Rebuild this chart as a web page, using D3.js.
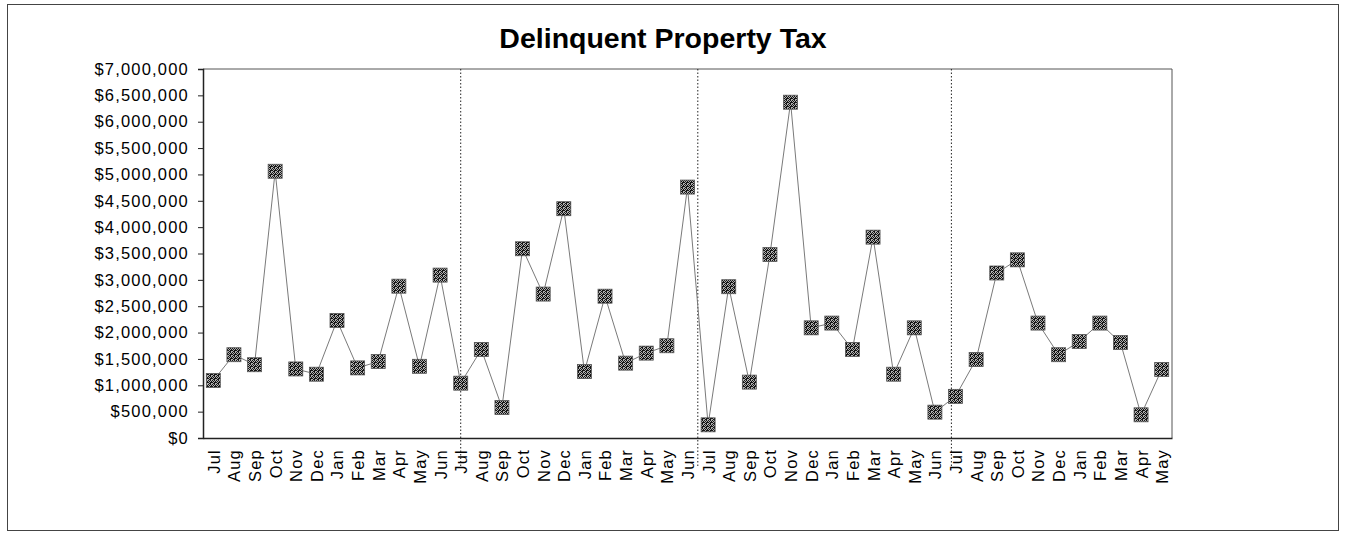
<!DOCTYPE html>
<html>
<head>
<meta charset="utf-8">
<script src="https://cdn.jsdelivr.net/npm/d3@7"></script>
<style>
  body { margin: 0; background: #fff; }
  svg { display: block; font-family: "Liberation Sans", Arial, sans-serif; }
</style>
</head>
<body>
<svg></svg>
<script>
const width = 1349;
const height = 538;

// Month labels, fiscal years Jul-Jun (last year ends in May)
const months = ["Jul", "Aug", "Sep", "Oct", "Nov", "Dec", "Jan", "Feb", "Mar", "Apr", "May", "Jun"];
const yearLengths = [12, 12, 12, 11];

// Monthly delinquent tax, in dollars
const values = [
  1090000, 1580000, 1390000, 5060000, 1310000, 1210000, 2230000, 1330000, 1450000, 2880000, 1360000, 3090000,
  1040000, 1680000, 580000, 3590000, 2730000, 4350000, 1260000, 2690000, 1420000, 1610000, 1750000, 4760000,
  250000, 2870000, 1060000, 3480000, 6370000, 2090000, 2180000, 1680000, 3810000, 1210000, 2090000, 490000,
  790000, 1490000, 3130000, 3380000, 2180000, 1580000, 1830000, 2180000, 1810000, 440000, 1300000
];

// Dotted separators between fiscal years (category position)
const dividers = [12, 23.5, 35.8];

const labels = yearLengths.flatMap((n) => months.slice(0, n));
const data = values.map((v, i) => ({ i, label: labels[i], value: v }));

const margin = { top: 69, right: 177, bottom: 100, left: 203 };

const svg = d3.select("svg").attr("width", width).attr("height", height);

// outer frame
svg.append("rect")
  .attr("x", 7.5).attr("y", 4.5)
  .attr("width", 1331).attr("height", 526)
  .attr("fill", "none")
  .attr("stroke", "#444")
  .attr("stroke-width", 1);

// halftone-like marker fill
const pat = svg.append("defs").append("pattern")
  .attr("id", "speckle")
  .attr("width", 4).attr("height", 4)
  .attr("patternUnits", "userSpaceOnUse");
pat.append("rect").attr("width", 4).attr("height", 4).attr("fill", "#b0b0b0");
[[0, 0], [2, 0], [1, 1], [3, 1], [0, 2], [3, 2], [1, 3], [2, 3], [2, 2]].forEach(([px, py]) =>
  pat.append("rect").attr("x", px).attr("y", py).attr("width", 1).attr("height", 1).attr("fill", "#151515"));

svg.append("text")
  .attr("x", 663)
  .attr("y", 48)
  .attr("text-anchor", "middle")
  .style("font-size", "28.5px")
  .style("font-weight", "bold")
  .attr("fill", "#000")
  .text("Delinquent Property Tax");

const x = d3.scaleLinear()
  .domain([-0.5, values.length - 0.5])
  .range([margin.left, width - margin.right]);

const y = d3.scaleLinear()
  .domain([0, 7000000])
  .range([438, margin.top]);

// plot border (top / right)
svg.append("path")
  .attr("d", `M${x.range()[0]},${y(7000000)}H${x.range()[1]}V${y(0)}`)
  .attr("fill", "none")
  .attr("stroke", "#555")
  .attr("stroke-width", 1);

// y axis
const yAxis = svg.append("g")
  .attr("transform", `translate(${margin.left},0)`)
  .call(d3.axisLeft(y)
    .tickValues(d3.range(0, 7000001, 500000))
    .tickFormat(d3.format("$,.0f"))
    .tickSize(5)
    .tickPadding(9));
yAxis.select(".domain").attr("stroke", "#222").attr("stroke-width", 1.5);
yAxis.selectAll(".tick line").attr("stroke", "#222");
yAxis.selectAll("text")
  .style("font-size", "16.5px")
  .style("letter-spacing", "1.2px")
  .attr("fill", "#000");

// x axis
const xAxis = svg.append("g")
  .attr("transform", `translate(0,${y(0)})`)
  .call(d3.axisBottom(x)
    .tickValues(d3.range(values.length))
    .tickFormat((i) => labels[i])
    .tickSize(0));
xAxis.select(".domain").attr("stroke", "#222").attr("stroke-width", 1.5);
xAxis.selectAll("text")
  .attr("transform", "rotate(-90)")
  .attr("text-anchor", "end")
  .attr("x", -11)
  .attr("y", 0)
  .attr("dy", "0.36em")
  .style("font-size", "16.5px")
  .style("letter-spacing", "1.2px")
  .attr("fill", "#000");

// year separators
svg.append("g")
  .selectAll("line")
  .data(dividers)
  .join("line")
  .attr("x1", (d) => x(d))
  .attr("x2", (d) => x(d))
  .attr("y1", y(7000000))
  .attr("y2", y(0) + 30)
  .attr("stroke", "#222")
  .attr("stroke-width", 1)
  .attr("stroke-dasharray", "1.5,2");

// series line
svg.append("path")
  .datum(data)
  .attr("fill", "none")
  .attr("stroke", "#7a7a7a")
  .attr("stroke-width", 1)
  .attr("d", d3.line().x((d) => x(d.i)).y((d) => y(d.value)));

// markers
const size = 14;
svg.append("g")
  .selectAll("rect")
  .data(data)
  .join("rect")
  .attr("x", (d) => x(d.i) - size / 2)
  .attr("y", (d) => y(d.value) - size / 2)
  .attr("width", size)
  .attr("height", size)
  .attr("fill", "url(#speckle)")
  .attr("stroke", "#555")
  .attr("stroke-width", 0.8);
</script>
</body>
</html>
